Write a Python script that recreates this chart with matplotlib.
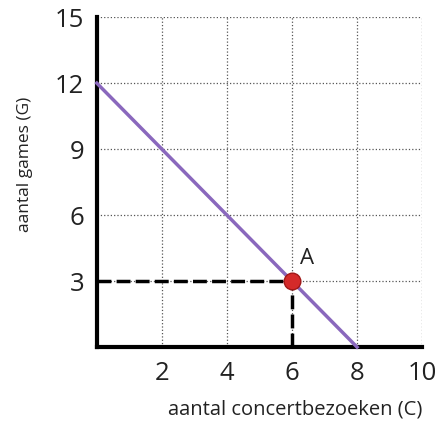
import matplotlib.pyplot as plt

# budgetlijn en punt A
line_c = [0, 8]
line_g = [12, 0]
punt_c = 6
punt_g = 3
x_ticks = [2, 4, 6, 8, 10]
y_ticks = [3, 6, 9, 12, 15]

plt.rcParams['font.family'] = ['Open Sans', 'DejaVu Sans']

fig = plt.figure(figsize=(4.42, 4.28), dpi=100)
ax = fig.add_axes([0.219, 0.189, 0.736, 0.771])

ax.set_xlim(0, 10)
ax.set_ylim(0, 15)
ax.set_xticks(x_ticks)
ax.set_yticks(y_ticks)
ax.grid(True, linestyle=':', color='#555555', linewidth=0.9)
ax.tick_params(length=0, labelsize=18.5, colors='#222222')
ax.tick_params(axis='x', pad=10)
ax.tick_params(axis='y', pad=9)

for s in ['top', 'right']:
    ax.spines[s].set_visible(False)
ax.spines['left'].set_linewidth(3)
ax.spines['bottom'].set_linewidth(3)

# stippellijnen naar punt A
ax.plot([0, punt_c], [punt_g, punt_g], color='black', linestyle=(0, (4, 1.5)), linewidth=2.5, zorder=3)
ax.plot([punt_c, punt_c], [0, punt_g], color='black', linestyle=(0, (4, 1.5)), linewidth=2.5, zorder=3)

ax.plot(line_c, line_g, color='#8a68bd', linewidth=2.5, zorder=4, clip_on=False)
ax.plot(punt_c, punt_g, 'o', markersize=12, color='#d42a2a', markeredgecolor='#a01818', zorder=5)
ax.text(punt_c + 0.45, punt_g + 0.55, 'A', fontsize=16, ha='center', va='bottom', color='#222222')

ax.set_xlabel('aantal concertbezoeken (C)', fontsize=14.5, color='#222222')
ax.xaxis.set_label_coords(0.61, -0.16)
ax.set_ylabel('aantal games (G)', fontsize=12.5, color='#222222')
ax.yaxis.set_label_coords(-0.195, 0.555)

fig.savefig('out.png', dpi=100)
